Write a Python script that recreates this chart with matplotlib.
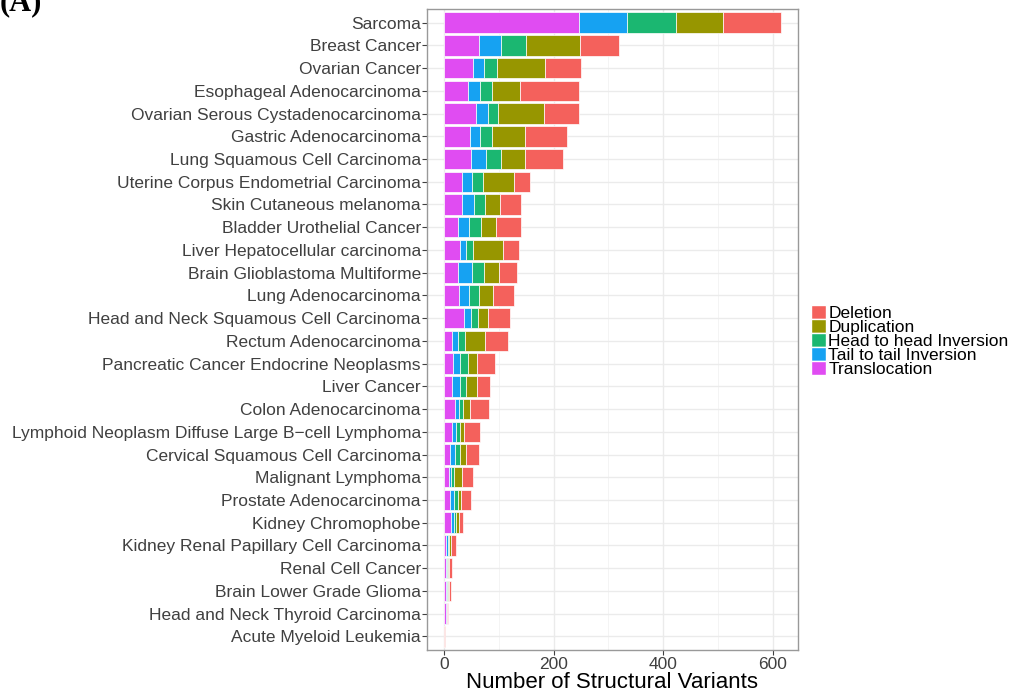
import numpy as np
import matplotlib
matplotlib.use("Agg")
import matplotlib.pyplot as plt
from matplotlib.patches import Patch

cancers = ["Sarcoma", "Breast Cancer", "Ovarian Cancer", "Esophageal Adenocarcinoma",
           "Ovarian Serous Cystadenocarcinoma", "Gastric Adenocarcinoma",
           "Lung Squamous Cell Carcinoma", "Uterine Corpus Endometrial Carcinoma",
           "Skin Cutaneous melanoma", "Bladder Urothelial Cancer",
           "Liver Hepatocellular carcinoma", "Brain Glioblastoma Multiforme",
           "Lung Adenocarcinoma", "Head and Neck Squamous Cell Carcinoma",
           "Rectum Adenocarcinoma", "Pancreatic Cancer Endocrine Neoplasms",
           "Liver Cancer", "Colon Adenocarcinoma",
           "Lymphoid Neoplasm Diffuse Large B\u2212cell Lymphoma",
           "Cervical Squamous Cell Carcinoma", "Malignant Lymphoma",
           "Prostate Adenocarcinoma", "Kidney Chromophobe",
           "Kidney Renal Papillary Cell Carcinoma", "Renal Cell Cancer",
           "Brain Lower Grade Glioma", "Head and Neck Thyroid Carcinoma",
           "Acute Myeloid Leukemia"]

translocation = [247, 64, 53, 44, 59, 47, 50, 33, 33, 25.5, 29, 25.5, 27, 36,
                 14.5, 17, 15, 20, 14, 11, 8.5, 11, 13.5, 4, 3, 3, 4, 0]
tail_tail = [87.5, 41, 21, 22, 20.6, 19.4, 26, 19, 22, 21, 11.6, 25.4, 18, 14,
             11.7, 13.3, 14, 7.3, 8.5, 9, 5, 7.3, 4.7, 3, 2, 2, 1, 0]
head_head = [88, 44, 22, 21, 18.7, 20.6, 28, 20, 20.5, 22, 12.8, 22.6, 19, 13,
             12, 14, 12, 7.3, 6.6, 9, 4.7, 8, 4.3, 2.5, 2.5, 2, 0.5, 0]
duplication = [86.5, 99, 88, 52, 83.6, 61.8, 44.7, 56, 26, 26, 53.8, 27.2, 25.4,
               17.6, 36.3, 17, 18.7, 12.7, 8.5, 12, 14.5, 4.7, 5.5, 3, 2.5, 2, 0.5, 0]
deletion = [106, 72, 66, 108, 64.2, 75.3, 69, 29, 40, 47, 29.8, 32.8, 39.3, 40.6,
            42.6, 32.7, 24.4, 34.5, 28.6, 23, 20.8, 18.2, 7.8, 10, 4, 4, 1, 1.5]

sv_types = ["Translocation", "Tail to tail Inversion", "Head to head Inversion",
            "Duplication", "Deletion"]
colors = ["#E04CF2", "#16A2F2", "#1BB771", "#979600", "#F4615C"]
series = [translocation, tail_tail, head_head, duplication, deletion]

plt.rcParams['font.family'] = ['Liberation Sans', 'DejaVu Sans']

fig = plt.figure(figsize=(10.1, 6.96), dpi=100)
ax = fig.add_axes([427 / 1010, 1 - 650 / 696, 371 / 1010, 641 / 696])

y = np.arange(len(cancers))
left = np.zeros(len(cancers))
for name, vals, c in zip(sv_types, series, colors):
    vals = np.array(vals)
    ax.barh(y, vals, left=left, height=0.9, color=c, edgecolor="white",
            linewidth=0.5, zorder=3, label=name)
    left += vals

ax.set_ylim(len(cancers) - 0.4, -0.6)
ax.set_xlim(-30.75, 645.75)
ax.set_yticks(y)
ax.set_yticklabels(cancers, fontsize=12.5, color="#404040")
ax.set_xticks([0, 200, 400, 600])
ax.set_xticks([100, 300, 500], minor=True)
ax.tick_params(axis="x", labelsize=12.5, colors="#404040", length=3.5, width=0.8, pad=1.5)
ax.tick_params(axis="y", length=3.5, width=0.8, colors="#404040", pad=1)
ax.tick_params(axis="x", which="minor", length=0)
ax.grid(True, which="major", color="#EBEBEB", linewidth=1.0, zorder=0)
ax.grid(True, which="minor", axis="x", color="#F2F2F2", linewidth=0.6, zorder=0)
for s in ax.spines.values():
    s.set_color("#999999")
    s.set_linewidth(1.0)
ax.set_xlabel("Number of Structural Variants", fontsize=16, labelpad=0)

handles = [Patch(facecolor=c, edgecolor="white", label=n)
           for n, c in zip(sv_types[::-1], colors[::-1])]
fig.legend(handles=handles, loc="center left", bbox_to_anchor=(811 / 1010, 1 - 341 / 696),
           frameon=False, fontsize=12.5, handlelength=0.85, handleheight=0.85,
           handletextpad=0.15, labelspacing=-0.12, borderaxespad=0, borderpad=0)

fig.text(0.0, 1 - 10 / 696, "(A)", fontsize=22, fontweight="bold",
         family="Liberation Serif", va="baseline", ha="left")

fig.savefig("out.png", dpi=100)
